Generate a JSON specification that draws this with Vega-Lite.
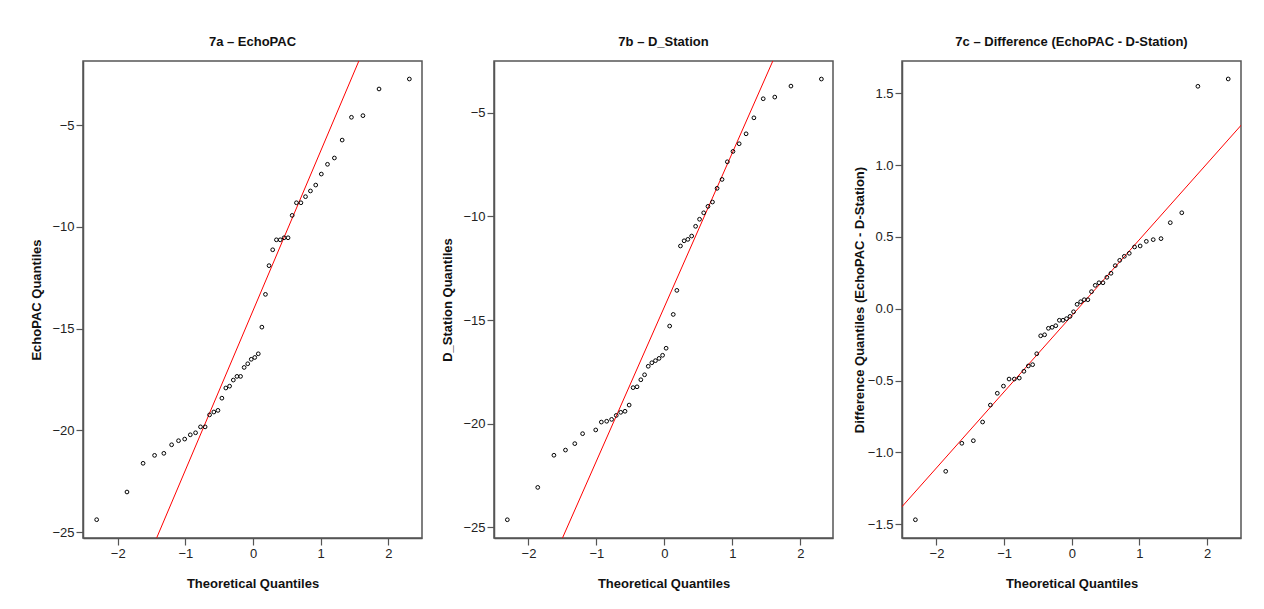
{
  "$schema": "https://vega.github.io/schema/vega-lite/v6.json",
  "background": "white",
  "padding": {"left": 30, "top": 35, "right": 5, "bottom": 0},
  "spacing": 18,
  "config": {
    "font": "Liberation Sans",
    "view": {"stroke": "#555", "strokeWidth": 1.5},
    "axis": {
      "grid": false,
      "domainColor": "#555",
      "domainWidth": 1.5,
      "tickColor": "#555",
      "tickWidth": 1.2,
      "tickSize": 7,
      "labelFont": "Liberation Sans",
      "labelFontSize": 13,
      "labelColor": "#222",
      "labelPadding": 2,
      "titleFont": "Liberation Sans",
      "titleFontSize": 13,
      "titleFontWeight": "bold",
      "titleColor": "#111",
      "titlePadding": 8
    },
    "axisX": {"titlePadding": 17},
    "title": {"font": "Liberation Sans", "fontSize": 13, "fontWeight": "bold", "color": "#111", "offset": 12, "anchor": "middle"}
  },
  "datasets": {
    "p1": [
      {"q": -2.311, "v": -24.39}, {"q": -1.863, "v": -23.03}, {"q": -1.625, "v": -21.62}, {"q": -1.455, "v": -21.23}, {"q": -1.318, "v": -21.13},
      {"q": -1.203, "v": -20.71}, {"q": -1.101, "v": -20.51}, {"q": -1.010, "v": -20.43}, {"q": -0.927, "v": -20.22}, {"q": -0.849, "v": -20.12},
      {"q": -0.776, "v": -19.83}, {"q": -0.708, "v": -19.83}, {"q": -0.642, "v": -19.24}, {"q": -0.579, "v": -19.10}, {"q": -0.518, "v": -19.02},
      {"q": -0.460, "v": -18.42}, {"q": -0.402, "v": -17.92}, {"q": -0.346, "v": -17.83}, {"q": -0.291, "v": -17.53}, {"q": -0.237, "v": -17.35},
      {"q": -0.184, "v": -17.35}, {"q": -0.131, "v": -16.91}, {"q": -0.078, "v": -16.73}, {"q": -0.026, "v": -16.51}, {"q": 0.026, "v": -16.42},
      {"q": 0.078, "v": -16.24}, {"q": 0.131, "v": -14.93}, {"q": 0.184, "v": -13.32}, {"q": 0.237, "v": -11.91}, {"q": 0.291, "v": -11.13},
      {"q": 0.346, "v": -10.64}, {"q": 0.402, "v": -10.64}, {"q": 0.460, "v": -10.54}, {"q": 0.518, "v": -10.54}, {"q": 0.579, "v": -9.44},
      {"q": 0.642, "v": -8.82}, {"q": 0.708, "v": -8.82}, {"q": 0.776, "v": -8.52}, {"q": 0.849, "v": -8.24}, {"q": 0.927, "v": -7.95},
      {"q": 1.010, "v": -7.41}, {"q": 1.101, "v": -6.93}, {"q": 1.203, "v": -6.62}, {"q": 1.318, "v": -5.74}, {"q": 1.455, "v": -4.62},
      {"q": 1.625, "v": -4.54}, {"q": 1.863, "v": -3.23}, {"q": 2.311, "v": -2.74}
    ],
    "l1": [{"q": -3, "v": -37.64}, {"q": 3, "v": 9.40}],
    "p2": [
      {"q": -2.311, "v": -24.63}, {"q": -1.863, "v": -23.07}, {"q": -1.625, "v": -21.52}, {"q": -1.455, "v": -21.27}, {"q": -1.318, "v": -20.96},
      {"q": -1.203, "v": -20.48}, {"q": -1.010, "v": -20.30}, {"q": -0.927, "v": -19.92}, {"q": -0.849, "v": -19.88},
      {"q": -0.776, "v": -19.79}, {"q": -0.708, "v": -19.60}, {"q": -0.642, "v": -19.45}, {"q": -0.579, "v": -19.40}, {"q": -0.518, "v": -19.10},
      {"q": -0.460, "v": -18.26}, {"q": -0.402, "v": -18.22}, {"q": -0.346, "v": -17.88}, {"q": -0.291, "v": -17.64}, {"q": -0.237, "v": -17.23},
      {"q": -0.184, "v": -17.06}, {"q": -0.131, "v": -16.96}, {"q": -0.078, "v": -16.85}, {"q": -0.026, "v": -16.70}, {"q": 0.026, "v": -16.36},
      {"q": 0.078, "v": -15.29}, {"q": 0.131, "v": -14.73}, {"q": 0.184, "v": -13.57}, {"q": 0.237, "v": -11.43}, {"q": 0.291, "v": -11.18},
      {"q": 0.346, "v": -11.11}, {"q": 0.402, "v": -10.95}, {"q": 0.460, "v": -10.48}, {"q": 0.518, "v": -10.14}, {"q": 0.579, "v": -9.83},
      {"q": 0.642, "v": -9.52}, {"q": 0.708, "v": -9.31}, {"q": 0.776, "v": -8.65}, {"q": 0.849, "v": -8.22}, {"q": 0.927, "v": -7.37},
      {"q": 1.010, "v": -6.87}, {"q": 1.101, "v": -6.50}, {"q": 1.203, "v": -6.02}, {"q": 1.318, "v": -5.25}, {"q": 1.455, "v": -4.33},
      {"q": 1.625, "v": -4.25}, {"q": 1.863, "v": -3.72}, {"q": 2.311, "v": -3.38}
    ],
    "l2": [{"q": -3, "v": -36.66}, {"q": 3, "v": 7.92}],
    "p3": [
      {"q": -2.311, "v": -1.468}, {"q": -1.863, "v": -1.131}, {"q": -1.625, "v": -0.936}, {"q": -1.455, "v": -0.918}, {"q": -1.318, "v": -0.788},
      {"q": -1.203, "v": -0.670}, {"q": -1.101, "v": -0.588}, {"q": -1.010, "v": -0.538}, {"q": -0.927, "v": -0.489}, {"q": -0.849, "v": -0.489},
      {"q": -0.776, "v": -0.482}, {"q": -0.708, "v": -0.435}, {"q": -0.642, "v": -0.398}, {"q": -0.579, "v": -0.389}, {"q": -0.518, "v": -0.313},
      {"q": -0.460, "v": -0.188}, {"q": -0.402, "v": -0.181}, {"q": -0.346, "v": -0.136}, {"q": -0.291, "v": -0.129}, {"q": -0.237, "v": -0.118},
      {"q": -0.184, "v": -0.080}, {"q": -0.131, "v": -0.080}, {"q": -0.078, "v": -0.069}, {"q": -0.026, "v": -0.053}, {"q": 0.026, "v": -0.021},
      {"q": 0.078, "v": 0.031}, {"q": 0.131, "v": 0.049}, {"q": 0.184, "v": 0.063}, {"q": 0.237, "v": 0.063}, {"q": 0.291, "v": 0.119},
      {"q": 0.346, "v": 0.163}, {"q": 0.402, "v": 0.181}, {"q": 0.460, "v": 0.181}, {"q": 0.518, "v": 0.219}, {"q": 0.579, "v": 0.247},
      {"q": 0.642, "v": 0.300}, {"q": 0.708, "v": 0.337}, {"q": 0.776, "v": 0.365}, {"q": 0.849, "v": 0.386}, {"q": 0.927, "v": 0.430},
      {"q": 1.010, "v": 0.437}, {"q": 1.101, "v": 0.469}, {"q": 1.203, "v": 0.481}, {"q": 1.318, "v": 0.488}, {"q": 1.455, "v": 0.599},
      {"q": 1.625, "v": 0.668}, {"q": 1.863, "v": 1.548}, {"q": 2.311, "v": 1.599}
    ],
    "l3": [{"q": -3, "v": -1.637}, {"q": 3, "v": 1.541}]
  },
  "hconcat": [
    {
      "title": "7a – EchoPAC",
      "width": 339, "height": 477,
      "layer": [
        {
          "data": {"name": "l1"},
          "mark": {"type": "line", "color": "#ff0000", "strokeWidth": 1, "clip": true},
          "encoding": {
            "x": {"field": "q", "type": "quantitative", "scale": {"domain": [-2.513, 2.498], "nice": false, "zero": false}, "axis": {"values": [-2, -1, 0, 1, 2], "format": ".0f", "title": "Theoretical Quantiles"}},
            "y": {"field": "v", "type": "quantitative", "scale": {"domain": [-25.29, -1.855], "nice": false, "zero": false}, "axis": {"values": [-25, -20, -15, -10, -5], "title": "EchoPAC Quantiles"}}
          }
        },
        {
          "data": {"name": "p1"},
          "mark": {"type": "point", "shape": "circle", "filled": false, "stroke": "#000", "strokeWidth": 1, "size": 14, "opacity": 1, "clip": true},
          "encoding": {
            "x": {"field": "q", "type": "quantitative"},
            "y": {"field": "v", "type": "quantitative"}
          }
        }
      ]
    },
    {
      "title": "7b – D_Station",
      "width": 339, "height": 477,
      "layer": [
        {
          "data": {"name": "l2"},
          "mark": {"type": "line", "color": "#ff0000", "strokeWidth": 1, "clip": true},
          "encoding": {
            "x": {"field": "q", "type": "quantitative", "scale": {"domain": [-2.507, 2.482], "nice": false, "zero": false}, "axis": {"values": [-2, -1, 0, 1, 2], "format": ".0f", "title": "Theoretical Quantiles"}},
            "y": {"field": "v", "type": "quantitative", "scale": {"domain": [-25.51, -2.51], "nice": false, "zero": false}, "axis": {"values": [-25, -20, -15, -10, -5], "title": "D_Station Quantiles"}}
          }
        },
        {
          "data": {"name": "p2"},
          "mark": {"type": "point", "shape": "circle", "filled": false, "stroke": "#000", "strokeWidth": 1, "size": 14, "opacity": 1, "clip": true},
          "encoding": {
            "x": {"field": "q", "type": "quantitative"},
            "y": {"field": "v", "type": "quantitative"}
          }
        }
      ]
    },
    {
      "title": "7c – Difference (EchoPAC - D-Station)",
      "width": 339, "height": 477,
      "layer": [
        {
          "data": {"name": "l3"},
          "mark": {"type": "line", "color": "#ff0000", "strokeWidth": 1, "clip": true},
          "encoding": {
            "x": {"field": "q", "type": "quantitative", "scale": {"domain": [-2.509, 2.5], "nice": false, "zero": false}, "axis": {"values": [-2, -1, 0, 1, 2], "format": ".0f", "title": "Theoretical Quantiles"}},
            "y": {"field": "v", "type": "quantitative", "scale": {"domain": [-1.595, 1.724], "nice": false, "zero": false}, "axis": {"values": [-1.5, -1, -0.5, 0, 0.5, 1, 1.5], "format": ".1f", "title": "Difference Quantiles (EchoPAC - D-Station)", "titlePadding": 1}}
          }
        },
        {
          "data": {"name": "p3"},
          "mark": {"type": "point", "shape": "circle", "filled": false, "stroke": "#000", "strokeWidth": 1, "size": 14, "opacity": 1, "clip": true},
          "encoding": {
            "x": {"field": "q", "type": "quantitative"},
            "y": {"field": "v", "type": "quantitative"}
          }
        }
      ]
    }
  ]
}
